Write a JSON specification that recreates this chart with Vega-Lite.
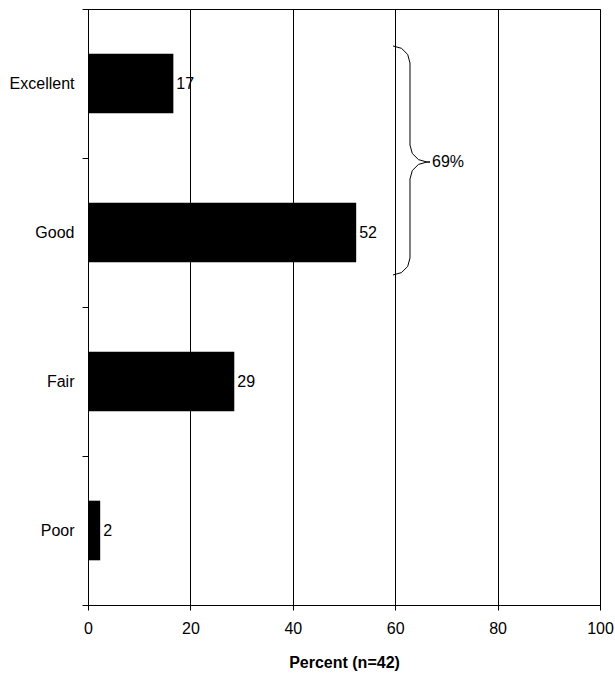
{
  "$schema": "https://vega.github.io/schema/vega-lite/v6.json",
  "width": 512,
  "height": 596,
  "autosize": {"type": "none"},
  "padding": {"left": 88, "top": 9, "right": 15, "bottom": 72},
  "background": "#ffffff",
  "config": {
    "font": "Liberation Sans",
    "view": {"stroke": "#000000", "strokeWidth": 1},
    "axis": {"labelColor": "#000000", "titleColor": "#000000"}
  },
  "datasets": {
    "ratings": [
      {"rating": "Excellent", "count": 7, "percent": 16.67},
      {"rating": "Good", "count": 22, "percent": 52.38},
      {"rating": "Fair", "count": 12, "percent": 28.57},
      {"rating": "Poor", "count": 1, "percent": 2.38}
    ],
    "brace": [
      {"seq": 1, "percent": 59.57, "pos": 3.752},
      {"seq": 2, "percent": 61.23, "pos": 3.736},
      {"seq": 3, "percent": 62.44, "pos": 3.695},
      {"seq": 4, "percent": 62.89, "pos": 3.638},
      {"seq": 5, "percent": 62.89, "pos": 3.087},
      {"seq": 6, "percent": 63.34, "pos": 3.03},
      {"seq": 7, "percent": 64.55, "pos": 2.989},
      {"seq": 8, "percent": 66.21, "pos": 2.973},
      {"seq": 9, "percent": 66.8, "pos": 2.973},
      {"seq": 10, "percent": 66.21, "pos": 2.973},
      {"seq": 11, "percent": 64.55, "pos": 2.957},
      {"seq": 12, "percent": 63.34, "pos": 2.916},
      {"seq": 13, "percent": 62.89, "pos": 2.859},
      {"seq": 14, "percent": 62.89, "pos": 2.329},
      {"seq": 15, "percent": 62.44, "pos": 2.272},
      {"seq": 16, "percent": 61.23, "pos": 2.231},
      {"seq": 17, "percent": 59.57, "pos": 2.215}
    ],
    "braceLabel": [
      {"label": "69%", "percent": 67.2, "pos": 2.973}
    ]
  },
  "layer": [
    {
      "data": {"name": "ratings"},
      "layer": [
        {
          "mark": {"type": "bar", "color": "#000000", "height": {"band": 0.4}},
          "encoding": {
            "y": {
              "field": "rating",
              "type": "nominal",
              "sort": ["Excellent", "Good", "Fair", "Poor"],
              "scale": {"paddingInner": 0, "paddingOuter": 0},
              "axis": {
                "title": null,
                "tickBand": "extent",
                "domainColor": "#000000",
                "tickColor": "#000000",
                "tickSize": 6,
                "labelFontSize": 16,
                "labelPadding": 8,
                "grid": false
              }
            },
            "x": {
              "field": "percent",
              "type": "quantitative",
              "scale": {"domain": [0, 100], "nice": false},
              "axis": {
                "title": "Percent (n=42)",
                "titleFontSize": 16,
                "titleFontWeight": "bold",
                "titlePadding": 18,
                "values": [0, 20, 40, 60, 80, 100],
                "grid": true,
                "gridColor": "#000000",
                "gridOpacity": 1,
                "domainColor": "#000000",
                "tickColor": "#000000",
                "tickSize": 5,
                "labelFontSize": 16,
                "labelPadding": 10,
                "labelFlush": false,
                "labelOverlap": false
              }
            }
          }
        },
        {
          "mark": {"type": "text", "align": "left", "baseline": "middle", "dx": 3, "fontSize": 16, "color": "#000000"},
          "encoding": {
            "y": {"field": "rating", "type": "nominal", "sort": ["Excellent", "Good", "Fair", "Poor"]},
            "x": {"field": "percent", "type": "quantitative"},
            "text": {"field": "percent", "type": "quantitative", "format": ".0f"}
          }
        }
      ]
    },
    {
      "layer": [
        {
          "data": {"name": "brace"},
          "mark": {"type": "line", "color": "#000000", "strokeWidth": 1, "interpolate": "linear"},
          "encoding": {
            "x": {"field": "percent", "type": "quantitative"},
            "y": {"field": "pos", "type": "quantitative", "scale": {"domain": [0, 4], "nice": false, "zero": false}, "axis": null},
            "order": {"field": "seq", "type": "quantitative"}
          }
        },
        {
          "data": {"name": "braceLabel"},
          "mark": {"type": "text", "align": "left", "baseline": "middle", "fontSize": 16, "color": "#000000"},
          "encoding": {
            "x": {"field": "percent", "type": "quantitative"},
            "y": {"field": "pos", "type": "quantitative", "scale": {"domain": [0, 4], "nice": false, "zero": false}, "axis": null},
            "text": {"field": "label"}
          }
        }
      ]
    }
  ],
  "resolve": {"scale": {"y": "independent"}}
}
